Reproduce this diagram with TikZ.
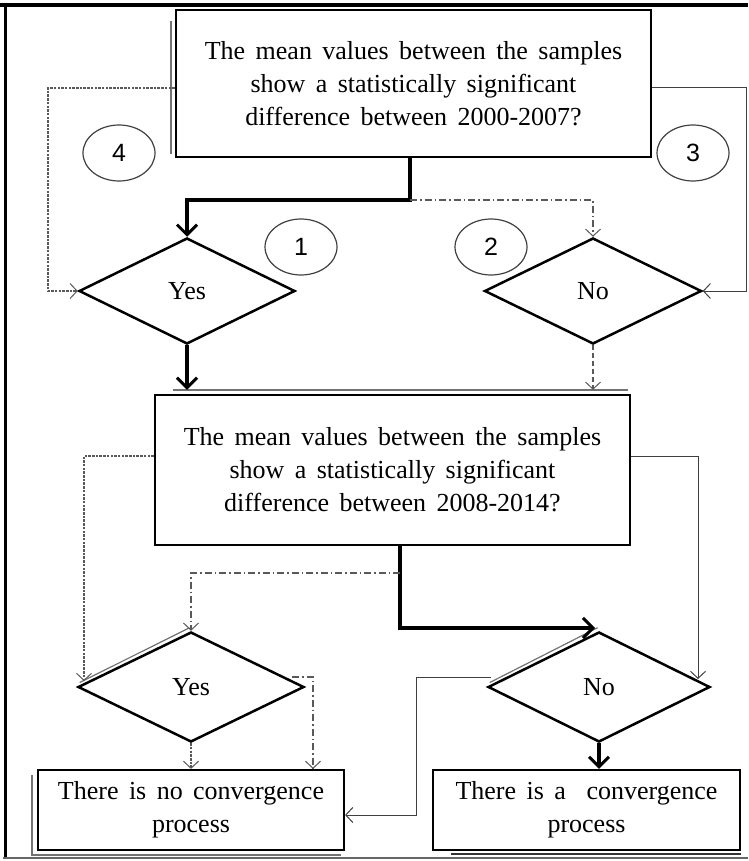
\documentclass[tikz,border=0pt]{standalone}
\usepackage{fontspec}
\setmainfont{Liberation Serif}[WordSpace=1.6]
\newfontfamily\numfont{Liberation Sans}
\usetikzlibrary{arrows.meta,shapes.geometric}

\tikzset{
  qbox/.style={draw, line width=2.5pt, fill=white, minimum width=475pt, minimum height=147pt, align=center, inner sep=0pt},
  endbox/.style={draw, line width=2.2pt, fill=white, minimum width=306pt, minimum height=80pt, align=center, inner sep=0pt},
  choice/.style={draw, diamond, line width=2.5pt, fill=white, inner sep=0pt},
  tag/.style={draw=black!75, ellipse, line width=1.2pt, minimum width=72pt, minimum height=56pt, inner sep=0pt, font=\numfont\fontsize{25}{25}\selectfont},
  shade line/.style={line width=2pt, black!55},
  bold line/.style={line width=4pt, -{Straight Barb[length=10pt,width=20pt,line width=3pt]}},
  thin line/.style={line width=1pt, black!75, -{Straight Barb[length=7pt,width=15pt,line width=1pt]}},
  dot line/.style={line width=1.5pt, black!65, dash pattern=on 2.5pt off 1.2pt, -{Straight Barb[length=7pt,width=15pt,line width=1pt]}},
  dash line/.style={line width=1.5pt, black!65, dash pattern=on 5pt off 3pt, -{Straight Barb[length=7pt,width=15pt,line width=1pt]}},
  dashdot line/.style={line width=1.3pt, black!65, dash pattern=on 7pt off 3pt on 1.5pt off 3pt, -{Straight Barb[length=7pt,width=15pt,line width=1pt]}},
}

\begin{document}
\begin{tikzpicture}[x=1pt, y=-1pt, font=\fontsize{26}{33}\selectfont]
  \useasboundingbox (0,0) rectangle (748,861);

  % frame
  \draw[line width=4pt] (0,5) -- (748,5);
  \draw[line width=3pt] (5,3) -- (5,858);
  \draw[line width=1.5pt, black!60] (3,858) -- (748,858);

  % questions
  \node[qbox] (q1) at (413.5,83.5) {The mean values between the samples\\show a statistically significant\\difference between 2000-2007?};
  \node[qbox, minimum height=150pt] (q2) at (392.5,470) {The mean values between the samples\\show a statistically significant\\difference between 2008-2014?};

  % answers
  \node[choice, minimum width=216pt, minimum height=106pt] (yes1) at (187,291) {Yes};
  \node[choice, minimum width=217pt, minimum height=106pt] (no1) at (593,291) {No};
  \node[choice, minimum width=226pt, minimum height=110pt] (yes2) at (191,687) {Yes};
  \node[choice, minimum width=222pt, minimum height=110pt] (no2) at (599,687) {No};

  % results
  \node[endbox] (noconv) at (191,810) {There is no convergence\\process};
  \node[endbox, minimum width=307pt] (conv) at (586.5,810) {There is a \ convergence\\process};

  % numbered paths
  \node[tag] (t4) at (119,153) {4};
  \node[tag] (t3) at (693,153) {3};
  \node[tag] (t1) at (301,247) {1};
  \node[tag] (t2) at (491,247) {2};

  % shadows
  \draw[shade line] ([xshift=-4pt,yshift=-12pt]q1.north west) -- ([xshift=-4pt,yshift=4pt]q1.south west);
  \draw[shade line, line width=2.5pt] ([xshift=19pt,yshift=4pt]q2.north west) -- ([xshift=-3pt,yshift=4pt]q2.north east);
  \draw[shade line, line width=1.5pt] ([xshift=-5pt,yshift=-6pt]noconv.north west) -- ([xshift=-5pt,yshift=-4pt]noconv.south west) -- ([xshift=-4pt,yshift=-4pt]noconv.south east);
  \draw[shade line, black!80] ([xshift=19pt,yshift=-3pt]conv.south west) -- ([yshift=-3pt]conv.south east);
  \draw[shade line, line width=1.2pt] ([shift={(3pt,4.5pt)}]yes2.west) -- ([shift={(-1.5pt,3pt)}]yes2.north);
  \draw[shade line, line width=1.2pt] ([shift={(3pt,4.5pt)}]no2.west) -- ([shift={(-1.5pt,3pt)}]no2.north);

  % turning points
  \coordinate (fork1) at (410,200);
  \coordinate (lout1) at (48,88);
  \coordinate (rout1) at (746,88);
  \coordinate (q2top) at ([yshift=4pt]q2.north);
  \coordinate (lout2) at (84,456);
  \coordinate (yes2in) at (84,681);
  \coordinate (rout2) at (698,456);
  \coordinate (no2in) at (698,679);
  \coordinate (fork2) at (400,573);
  \coordinate (turn2) at (400,628);
  \coordinate (no2top) at (595,628);
  \coordinate (yesr) at (292,677);
  \coordinate (yesr2) at (313,677);
  \coordinate (nol) at (491,677);
  \coordinate (nol2) at (416,677);

  % first question
  \draw[bold line] (q1.south -| fork1) -- (fork1) -| (yes1.north);
  \draw[dashdot line] (fork1) -| (no1.north);
  \draw[dot line] (q1.west |- lout1) -- (lout1) |- (yes1.west);
  \draw[thin line] (q1.east |- rout1) -- (rout1) |- (no1.east);
  \draw[bold line] (yes1.south) -- (yes1.south |- q2top);
  \draw[dash line] (no1.south) -- (no1.south |- q2top);

  % second question
  \draw[dot line] (q2.west |- lout2) -- (lout2) -- (yes2in);
  \draw[thin line] (q2.east |- rout2) -- (rout2) -- (no2in);
  \draw[bold line] (q2.south -| turn2) -- (turn2) -- (no2top);
  \draw[dashdot line] (fork2) -| (yes2.north);
  \draw[dot line] (yes2.south) -- (yes2.south |- noconv.north);
  \draw[dashdot line] (yesr) -- (yesr2) -- (yesr2 |- noconv.north);
  \draw[bold line] (no2.south) -- (no2.south |- conv.north);
  \draw[thin line] (nol) -- (nol2) |- ([yshift=-5pt]noconv.east);
\end{tikzpicture}
\end{document}
